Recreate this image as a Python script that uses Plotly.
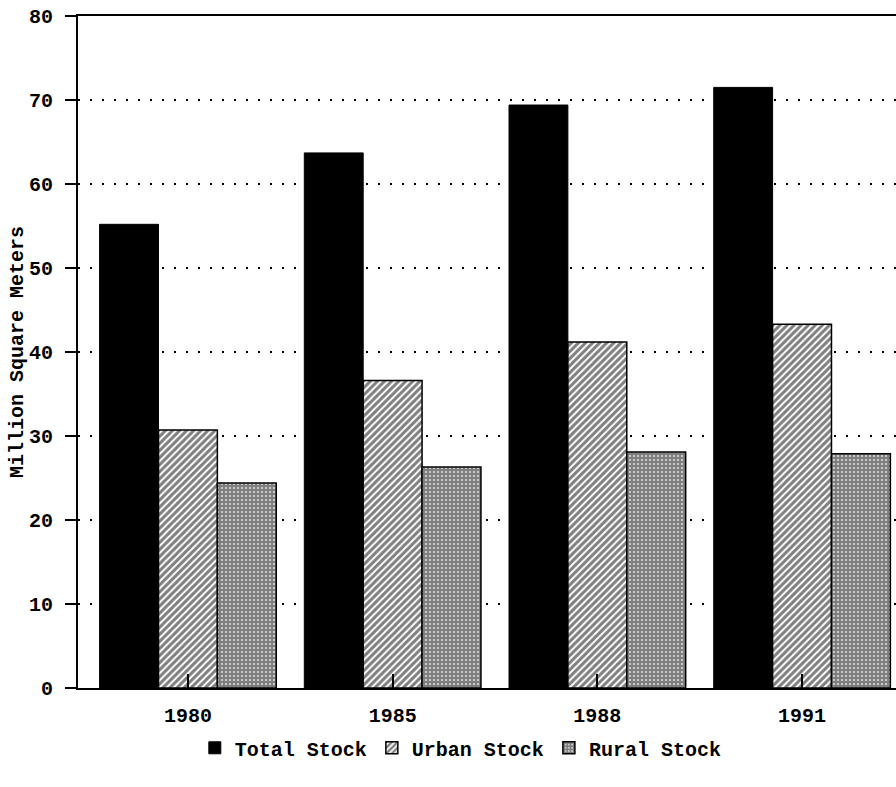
import plotly.graph_objects as go

years = ["1980", "1985", "1988", "1991"]
total_stock = [55.2, 63.7, 69.4, 71.5]
urban_stock = [30.7, 36.6, 41.2, 43.3]
rural_stock = [24.4, 26.3, 28.1, 27.9]
y_ticks = [0, 10, 20, 30, 40, 50, 60, 70, 80]

FONT = "Liberation Mono"

fig = go.Figure()
fig.add_trace(go.Bar(
    name="Total Stock", x=years, y=total_stock,
    marker=dict(color="black", line=dict(color="black", width=1)),
))
fig.add_trace(go.Bar(
    name="Urban Stock", x=years, y=urban_stock,
    marker=dict(color="white", line=dict(color="black", width=1.5),
                pattern=dict(shape="/", fgcolor="black", bgcolor="white",
                             size=5, solidity=0.6, fillmode="overlay")),
))
fig.add_trace(go.Bar(
    name="Rural Stock", x=years, y=rural_stock,
    marker=dict(color="white", line=dict(color="black", width=1.5),
                pattern=dict(shape="+", fgcolor="black", bgcolor="white",
                             size=4, solidity=0.85, fillmode="overlay")),
))

fig.update_layout(
    width=896, height=787,
    margin=dict(l=78, r=0, t=16, b=99),
    paper_bgcolor="white", plot_bgcolor="white",
    barmode="group", bargap=0.137, bargroupgap=0,
    font=dict(family=FONT, color="black", size=20, weight="bold"),
    showlegend=True,
    legend=dict(orientation="h", x=0.468, xanchor="center", y=-0.089,
                yanchor="middle", font=dict(family=FONT, size=20, weight="bold"),
                itemwidth=30, tracegroupgap=0),
    xaxis=dict(
        type="category", range=[-0.537, 3.459], automargin=False,
        showline=True, linecolor="black", linewidth=2, mirror=True,
        ticks="inside", ticklen=14, tickcolor="black", tickwidth=1.5,
        showgrid=False, zeroline=False,
        tickfont=dict(family=FONT, size=20, weight="bold"),
        ticklabelstandoff=8,
    ),
    yaxis=dict(
        range=[0, 80], tickvals=y_ticks, automargin=False,
        showline=True, linecolor="black", linewidth=2,
        ticks="outside", ticklen=11, tickcolor="black", tickwidth=2,
        showgrid=True, gridcolor="black", gridwidth=2, griddash="2px,10px",
        zeroline=False,
        tickfont=dict(family=FONT, size=20, weight="bold"),
        ticklabelstandoff=8,
        title=dict(text="Million Square Meters", standoff=0,
                   font=dict(family=FONT, size=20, weight="bold")),
    ),
)

fig.write_html("out.html", config={"displayModeBar": False},
               post_script="document.body.style.margin='0';document.body.style.overflow='hidden';")
